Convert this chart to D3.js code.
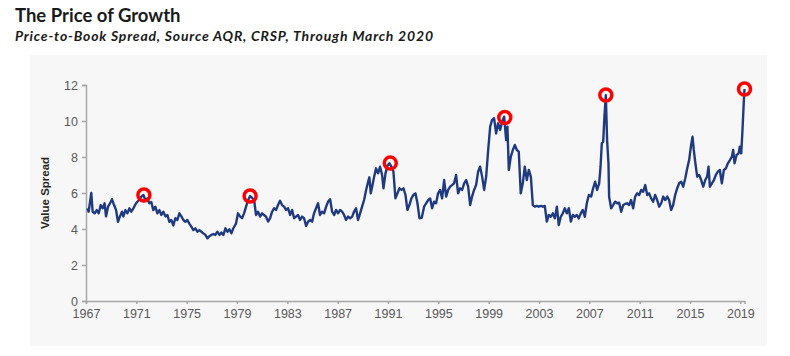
<!DOCTYPE html>
<html>
<head>
<meta charset="utf-8">
<script src="https://cdn.jsdelivr.net/npm/d3@7"></script>
<style>
  html, body { margin: 0; padding: 0; background: #ffffff; }
  svg { display: block; }
</style>
</head>
<body>
<svg id="chart" width="790" height="356"></svg>
<script>
// ---------- DATA ----------
const titleText = "The Price of Growth";
const subtitleText = "Price-to-Book Spread, Source AQR, CRSP, Through March 2020";
const yAxisTitle = "Value Spread";

const yTicks = [0, 2, 4, 6, 8, 10, 12];
const xTicks = [1967, 1971, 1975, 1979, 1983, 1987, 1991, 1995, 1999, 2003, 2007, 2011, 2015, 2019];

const years = [
  1967.11,1967.21,1967.32,1967.42,1967.53,1967.69,1967.85,1968.01,1968.17,1968.33,1968.48,1968.59,1968.75,1968.91,
  1969.07,1969.23,1969.39,1969.54,1969.70,1969.86,1969.97,1970.13,1970.29,1970.45,1970.60,1970.76,1970.98,
  1971.19,1971.40,1971.56,1971.72,1971.88,1972.03,1972.19,1972.35,1972.51,1972.67,1972.83,1972.99,
  1973.15,1973.31,1973.47,1973.62,1973.78,1973.94,1974.10,1974.26,1974.42,1974.58,1974.74,1974.90,
  1975.06,1975.21,1975.37,1975.53,1975.69,1975.85,1976.01,1976.17,1976.33,1976.49,1976.65,1976.80,1976.96,
  1977.12,1977.28,1977.44,1977.60,1977.76,1977.92,1978.08,1978.24,1978.40,1978.55,1978.71,1978.92,
  1979.08,1979.24,1979.40,1979.56,1979.72,1979.88,1980.04,
  1980.17,1980.36,1980.51,1980.67,1980.83,1980.99,1981.15,1981.31,1981.47,1981.63,1981.79,1981.94,
  1982.10,1982.26,1982.42,1982.58,1982.74,1982.90,1983.06,1983.22,1983.38,1983.54,1983.69,1983.85,
  1984.01,1984.17,1984.33,1984.49,1984.65,1984.81,1984.97,1985.12,1985.28,1985.44,1985.60,1985.76,1985.92,
  1986.08,1986.24,1986.40,1986.56,1986.72,1986.87,1987.03,1987.19,1987.35,1987.51,1987.67,1987.83,1987.99,
  1988.15,1988.30,1988.46,1988.62,1988.78,1988.94,1989.10,1989.26,1989.42,1989.52,1989.63,1989.74,1989.90,
  1990.05,1990.21,1990.37,1990.53,1990.64,1990.80,1990.95,1991.11,1991.27,1991.43,1991.59,1991.75,1991.91,
  1992.07,1992.23,1992.39,1992.54,1992.70,1992.86,1993.02,1993.18,1993.34,1993.50,
  1993.68,1993.87,1994.03,1994.19,1994.35,1994.50,1994.66,1994.82,1994.98,1995.14,1995.30,1995.46,1995.62,1995.78,1995.94,
  1996.09,1996.25,1996.41,1996.57,1996.73,1996.89,1997.05,1997.21,1997.37,1997.53,1997.68,1997.84,
  1998.00,1998.16,1998.32,1998.48,1998.64,1998.80,1998.96,1999.12,1999.27,1999.43,1999.59,1999.75,1999.91,
  2000.07,2000.23,2000.39,2000.49,2000.60,2000.76,2000.92,2001.08,2001.24,2001.39,2001.55,2001.71,2001.87,
  2002.03,2002.19,2002.35,2002.51,2002.67,2002.83,2002.98,2003.14,2003.30,2003.46,2003.62,2003.78,2003.94,
  2004.10,2004.26,2004.42,2004.57,2004.73,2004.89,2005.05,2005.21,2005.37,2005.53,2005.69,2005.85,
  2006.01,2006.16,2006.32,2006.48,2006.64,2006.80,2006.96,
  2007.14,2007.30,2007.46,2007.62,2007.78,2007.89,2007.99,2008.10,2008.20,2008.31,2008.41,2008.52,2008.57,2008.73,2008.89,
  2009.05,2009.21,2009.37,2009.53,2009.69,2009.85,2010.00,2010.16,2010.32,2010.48,2010.64,2010.80,2010.96,
  2011.12,2011.28,2011.44,2011.60,2011.75,2011.91,2012.07,2012.23,2012.39,2012.55,2012.71,2012.87,
  2013.03,2013.19,2013.34,2013.50,2013.66,2013.82,2013.98,2014.14,2014.30,2014.46,2014.62,2014.78,2014.93,
  2015.09,2015.20,2015.30,2015.41,2015.57,2015.73,2015.89,2016.05,2016.21,2016.36,2016.47,2016.58,2016.74,2016.90,
  2017.05,2017.21,2017.37,2017.53,2017.69,2017.85,2018.01,2018.17,2018.33,2018.43,2018.54,2018.70,2018.86,2018.96,
  2019.07,2019.17,2019.28,2019.33
];

const spread = [
  5.15,4.96,5.50,6.00,4.96,4.87,5.05,4.87,5.33,5.15,5.43,4.70,5.24,5.43,
  5.65,5.33,5.05,4.40,4.70,4.96,4.70,5.05,4.87,5.15,4.96,5.15,5.43,
  5.60,5.80,5.89,5.60,5.70,5.43,5.50,5.05,5.24,4.87,5.05,4.78,
  4.96,4.70,4.78,4.40,4.50,4.20,4.60,4.50,4.87,4.70,4.50,4.40,
  4.50,4.30,4.13,3.94,4.04,3.85,3.94,3.85,3.76,3.67,3.48,3.60,3.67,
  3.72,3.67,3.85,3.67,3.80,3.67,4.04,3.85,3.98,3.76,4.04,4.30,
  4.87,4.70,4.60,4.87,5.24,5.60,5.83,
  5.75,5.61,4.78,4.96,4.69,4.87,4.78,4.69,4.41,4.60,4.96,5.15,
  5.06,5.33,5.57,5.33,5.24,5.06,5.15,4.78,5.06,4.60,4.69,4.78,
  4.50,4.69,4.60,4.17,4.41,4.50,4.41,4.87,5.15,5.43,4.78,4.96,4.87,
  5.24,5.52,5.65,4.96,4.78,5.06,4.87,5.06,4.96,4.78,4.50,4.69,4.60,
  4.69,4.96,5.15,4.50,4.87,5.24,5.61,6.17,6.63,6.87,5.98,6.35,6.91,
  7.37,7.09,7.46,7.00,6.26,7.09,7.50,7.65,7.46,7.19,5.70,5.98,6.26,
  6.17,6.26,5.89,5.06,5.33,5.70,5.89,5.98,5.43,4.60,
  4.62,5.24,5.43,5.61,5.70,5.15,5.52,5.43,5.98,6.17,5.70,6.72,5.80,6.17,6.35,
  6.44,6.54,7.00,5.98,6.26,6.17,6.54,6.72,6.35,5.33,5.80,6.17,
  6.44,7.19,7.46,6.91,6.17,6.91,8.39,9.69,10.06,10.15,9.31,9.87,9.50,
  9.96,10.24,8.94,9.69,7.28,8.02,8.39,8.67,8.39,8.30,5.98,6.54,7.46,
  6.72,7.28,6.91,5.33,5.24,5.28,5.24,5.28,5.24,5.28,4.41,4.78,4.68,
  4.87,4.59,5.24,4.22,4.68,4.87,5.15,4.87,5.15,4.41,4.78,4.68,
  4.78,4.59,4.87,5.06,4.68,5.43,5.89,
  5.80,6.26,6.63,6.17,6.54,7.46,8.76,8.85,10.24,11.44,8.94,7.65,5.80,5.15,5.33,
  5.52,5.43,5.46,4.96,5.33,5.39,5.43,5.33,5.61,5.15,5.80,5.98,5.89,
  6.17,6.07,6.44,5.89,5.98,5.70,5.52,5.89,5.61,5.24,5.43,5.80,
  5.61,5.80,5.61,5.06,5.33,5.89,6.26,6.54,6.63,6.35,6.81,7.37,7.83,
  8.67,9.13,8.39,7.74,6.91,7.00,6.72,6.35,6.72,6.91,7.46,6.35,6.54,6.72,
  7.00,7.19,7.28,6.54,7.28,7.37,7.65,7.83,8.02,8.39,7.65,8.11,8.20,8.57,
  8.20,9.50,11.17,11.78
];

const peakYears  = [1971.60, 1980.04, 1991.18, 2000.28, 2008.31, 2019.33];
const peakValues = [5.89, 5.83, 7.66, 10.20, 11.45, 11.78];

// ---------- DRAW ----------
const svg = d3.select("#chart");

// panel background
svg.append("rect")
  .attr("x", 30).attr("y", 55)
  .attr("width", 737).attr("height", 291)
  .attr("fill", "#f7f7f7");

// titles
svg.append("text")
  .attr("x", 15).attr("y", 22)
  .attr("font-family", "Lato, 'Open Sans', sans-serif")
  .attr("font-weight", "bold")
  .attr("font-size", 18.5)
  .attr("fill", "#1a1a1a")
  .text(titleText);

svg.append("text")
  .attr("x", 15).attr("y", 41)
  .attr("font-family", "Lato, 'Open Sans', sans-serif")
  .attr("font-weight", "bold")
  .attr("font-style", "italic")
  .attr("font-size", 14)
  .attr("textLength", 418)
  .attr("lengthAdjust", "spacing")
  .attr("fill", "#1a1a1a")
  .text(subtitleText);

const x = d3.scaleLinear().domain([1967, 2019.33]).range([86, 744.5]);
const y = d3.scaleLinear().domain([0, 12]).range([301, 85]);

const axisColor = "#a6a6a6";
const labelColor = "#595959";

// Y axis
const yAxis = svg.append("g")
  .attr("transform", `translate(${x(1967)},0)`)
  .call(d3.axisLeft(y).tickValues(yTicks).tickFormat(d3.format("d")).tickSize(4).tickPadding(4));
yAxis.select(".domain").attr("stroke", axisColor).attr("stroke-width", 1.5);
yAxis.selectAll(".tick line").attr("stroke", axisColor).attr("stroke-width", 1.5);
yAxis.selectAll(".tick text")
  .attr("font-family", "'Liberation Sans', Arial, sans-serif")
  .attr("font-size", 12.5)
  .attr("fill", labelColor);

// X axis
const xAxis = svg.append("g")
  .attr("transform", `translate(0,${y(0)})`)
  .call(d3.axisBottom(x).tickValues(xTicks).tickFormat(d3.format("d")).tickSize(3).tickPadding(5));
xAxis.select(".domain").attr("stroke", axisColor).attr("stroke-width", 1.5);
xAxis.selectAll(".tick line").attr("stroke", axisColor).attr("stroke-width", 1.5);
xAxis.selectAll(".tick text")
  .attr("font-family", "'Liberation Sans', Arial, sans-serif")
  .attr("font-size", 12.5)
  .attr("fill", labelColor);

// Y axis title
svg.append("text")
  .attr("transform", `translate(49,${y(6)}) rotate(-90)`)
  .attr("text-anchor", "middle")
  .attr("font-family", "'Liberation Sans', Arial, sans-serif")
  .attr("font-weight", "bold")
  .attr("font-size", 11.5)
  .attr("fill", "#262626")
  .text(yAxisTitle);

// Line
const series = years.map((yr, i) => ({ yr, v: spread[i] }));
const line = d3.line().x(d => x(d.yr)).y(d => y(d.v));
svg.append("path")
  .datum(series)
  .attr("d", line)
  .attr("fill", "none")
  .attr("stroke", "#1f3a80")
  .attr("stroke-width", 2.4)
  .attr("stroke-linejoin", "round");

// Peak markers
svg.selectAll("circle.peak")
  .data(peakYears.map((yr, i) => ({ yr, v: peakValues[i] })))
  .join("circle")
  .attr("class", "peak")
  .attr("cx", d => x(d.yr))
  .attr("cy", d => y(d.v))
  .attr("r", 6)
  .attr("fill", "none")
  .attr("stroke", "#ff0000")
  .attr("stroke-width", 3.5);
</script>
</body>
</html>
